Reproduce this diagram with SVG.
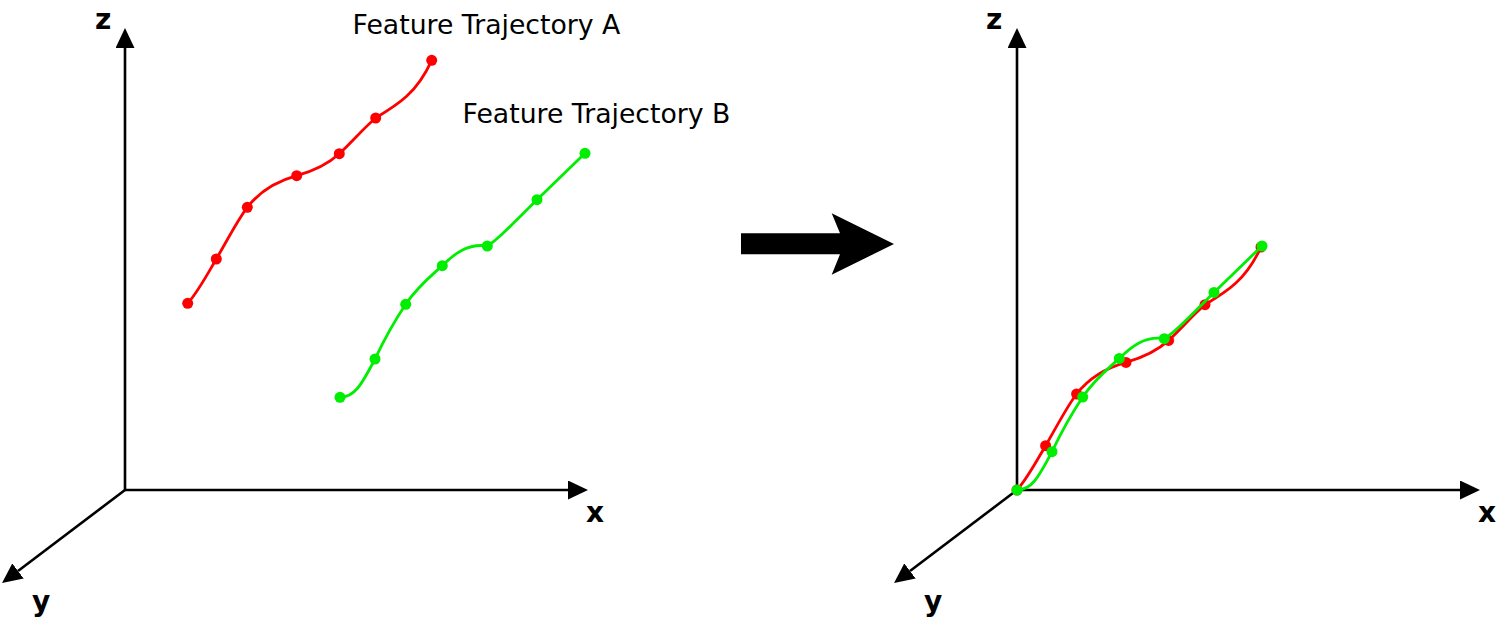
<svg xmlns="http://www.w3.org/2000/svg" xmlns:xlink="http://www.w3.org/1999/xlink" width="1500" height="622" viewBox="0 0 1500 622">
<style>
.axis{stroke:#000;stroke-width:2.6;fill:none;marker-end:url(#ah)}
.lbl{font-family:"DejaVu Sans",sans-serif;font-weight:bold;font-size:28px;fill:#000}
.title{font-family:"DejaVu Sans",sans-serif;font-size:26.7px;fill:#000}
.red{stroke:#ff0000;stroke-width:2.8;fill:none}
.grn{stroke:#00ee00;stroke-width:2.8;fill:none}
.rdot{fill:#ff0000}
.gdot{fill:#00ee00}
</style>
<defs>
<marker id="ah" viewBox="0 0 20 19" markerWidth="20" markerHeight="19" refX="0" refY="9.5" orient="auto" markerUnits="userSpaceOnUse">
<path d="M0,0 L20,9.5 L0,19 z" fill="#000"/>
</marker>
<g id="trajA">
<path class="red" d="M187.7,303.3 C197.7,292.3 207.3,274.3 216.3,259 C226.3,242 237.3,220.3 247.3,207.3 C261.3,189.3 278.7,180.7 296.7,175.7 C310.7,171.7 327.3,164.7 339.3,153.7 C351.3,142.7 363.7,128 375.7,118 C398,104.5 416.7,93.3 431.7,60.3"/>
<g class="rdot">
<circle cx="187.7" cy="303.3" r="5.5"/><circle cx="216.3" cy="259" r="5.5"/><circle cx="247.3" cy="207.3" r="5.5"/><circle cx="296.7" cy="175.7" r="5.5"/><circle cx="339.3" cy="153.7" r="5.5"/><circle cx="375.7" cy="118" r="5.5"/><circle cx="431.7" cy="60.3" r="5.5"/>
</g>
</g>
<g id="trajB">
<path class="grn" d="M340,397.3 C354,397.3 361,386 375,359 C384,340 395.7,319.3 405.7,304.3 C417.7,286.3 431,276 442.3,265.7 C454.3,253.7 468,243 487.3,246 C497,240 508,228.7 537,199.7 C553,184.2 569,168.8 585,153.3"/>
<g class="gdot">
<circle cx="340" cy="397.3" r="5.5"/><circle cx="375" cy="359" r="5.5"/><circle cx="405.7" cy="304.3" r="5.5"/><circle cx="442.3" cy="265.7" r="5.5"/><circle cx="487.3" cy="246" r="5.5"/><circle cx="537" cy="199.7" r="5.5"/><circle cx="585" cy="153.3" r="5.5"/>
</g>
</g>
</defs>

<g id="connectors">
<line class="axis" x1="125" y1="490" x2="125" y2="48"/>
<line class="axis" x1="125" y1="490" x2="568" y2="490"/>
<line class="axis" x1="125" y1="490" x2="18" y2="571"/>
<line class="axis" x1="1017" y1="490" x2="1017" y2="48"/>
<line class="axis" x1="1017" y1="490" x2="1460" y2="490"/>
<line class="axis" x1="1017" y1="490" x2="910" y2="571"/>
</g>

<g id="labels-left">
<text class="lbl" x="95" y="29">z</text>
<text class="lbl" x="586" y="522">x</text>
<text class="lbl" x="32" y="611">y</text>
</g>
<g id="labels-right">
<text class="lbl" x="986" y="29">z</text>
<text class="lbl" x="1478" y="522">x</text>
<text class="lbl" x="924" y="611">y</text>
</g>

<g id="trajectory-A">
<use xlink:href="#trajA" href="#trajA"/>
<text class="title" x="352.5" y="34">Feature Trajectory A</text>
</g>
<g id="trajectory-B">
<use xlink:href="#trajB" href="#trajB"/>
<text class="title" x="462.5" y="123">Feature Trajectory B</text>
</g>

<g id="big-arrow">
<polygon points="741,233.3 840,233.3 831.7,213.3 894,244 831.7,274.7 840,254.3 741,254.3" fill="#000"/>
</g>

<g id="aligned-A">
<use xlink:href="#trajA" href="#trajA" transform="translate(829.3,186.7)"/>
</g>
<g id="aligned-B">
<use xlink:href="#trajB" href="#trajB" transform="translate(677,92.7)"/>
</g>
</svg>
